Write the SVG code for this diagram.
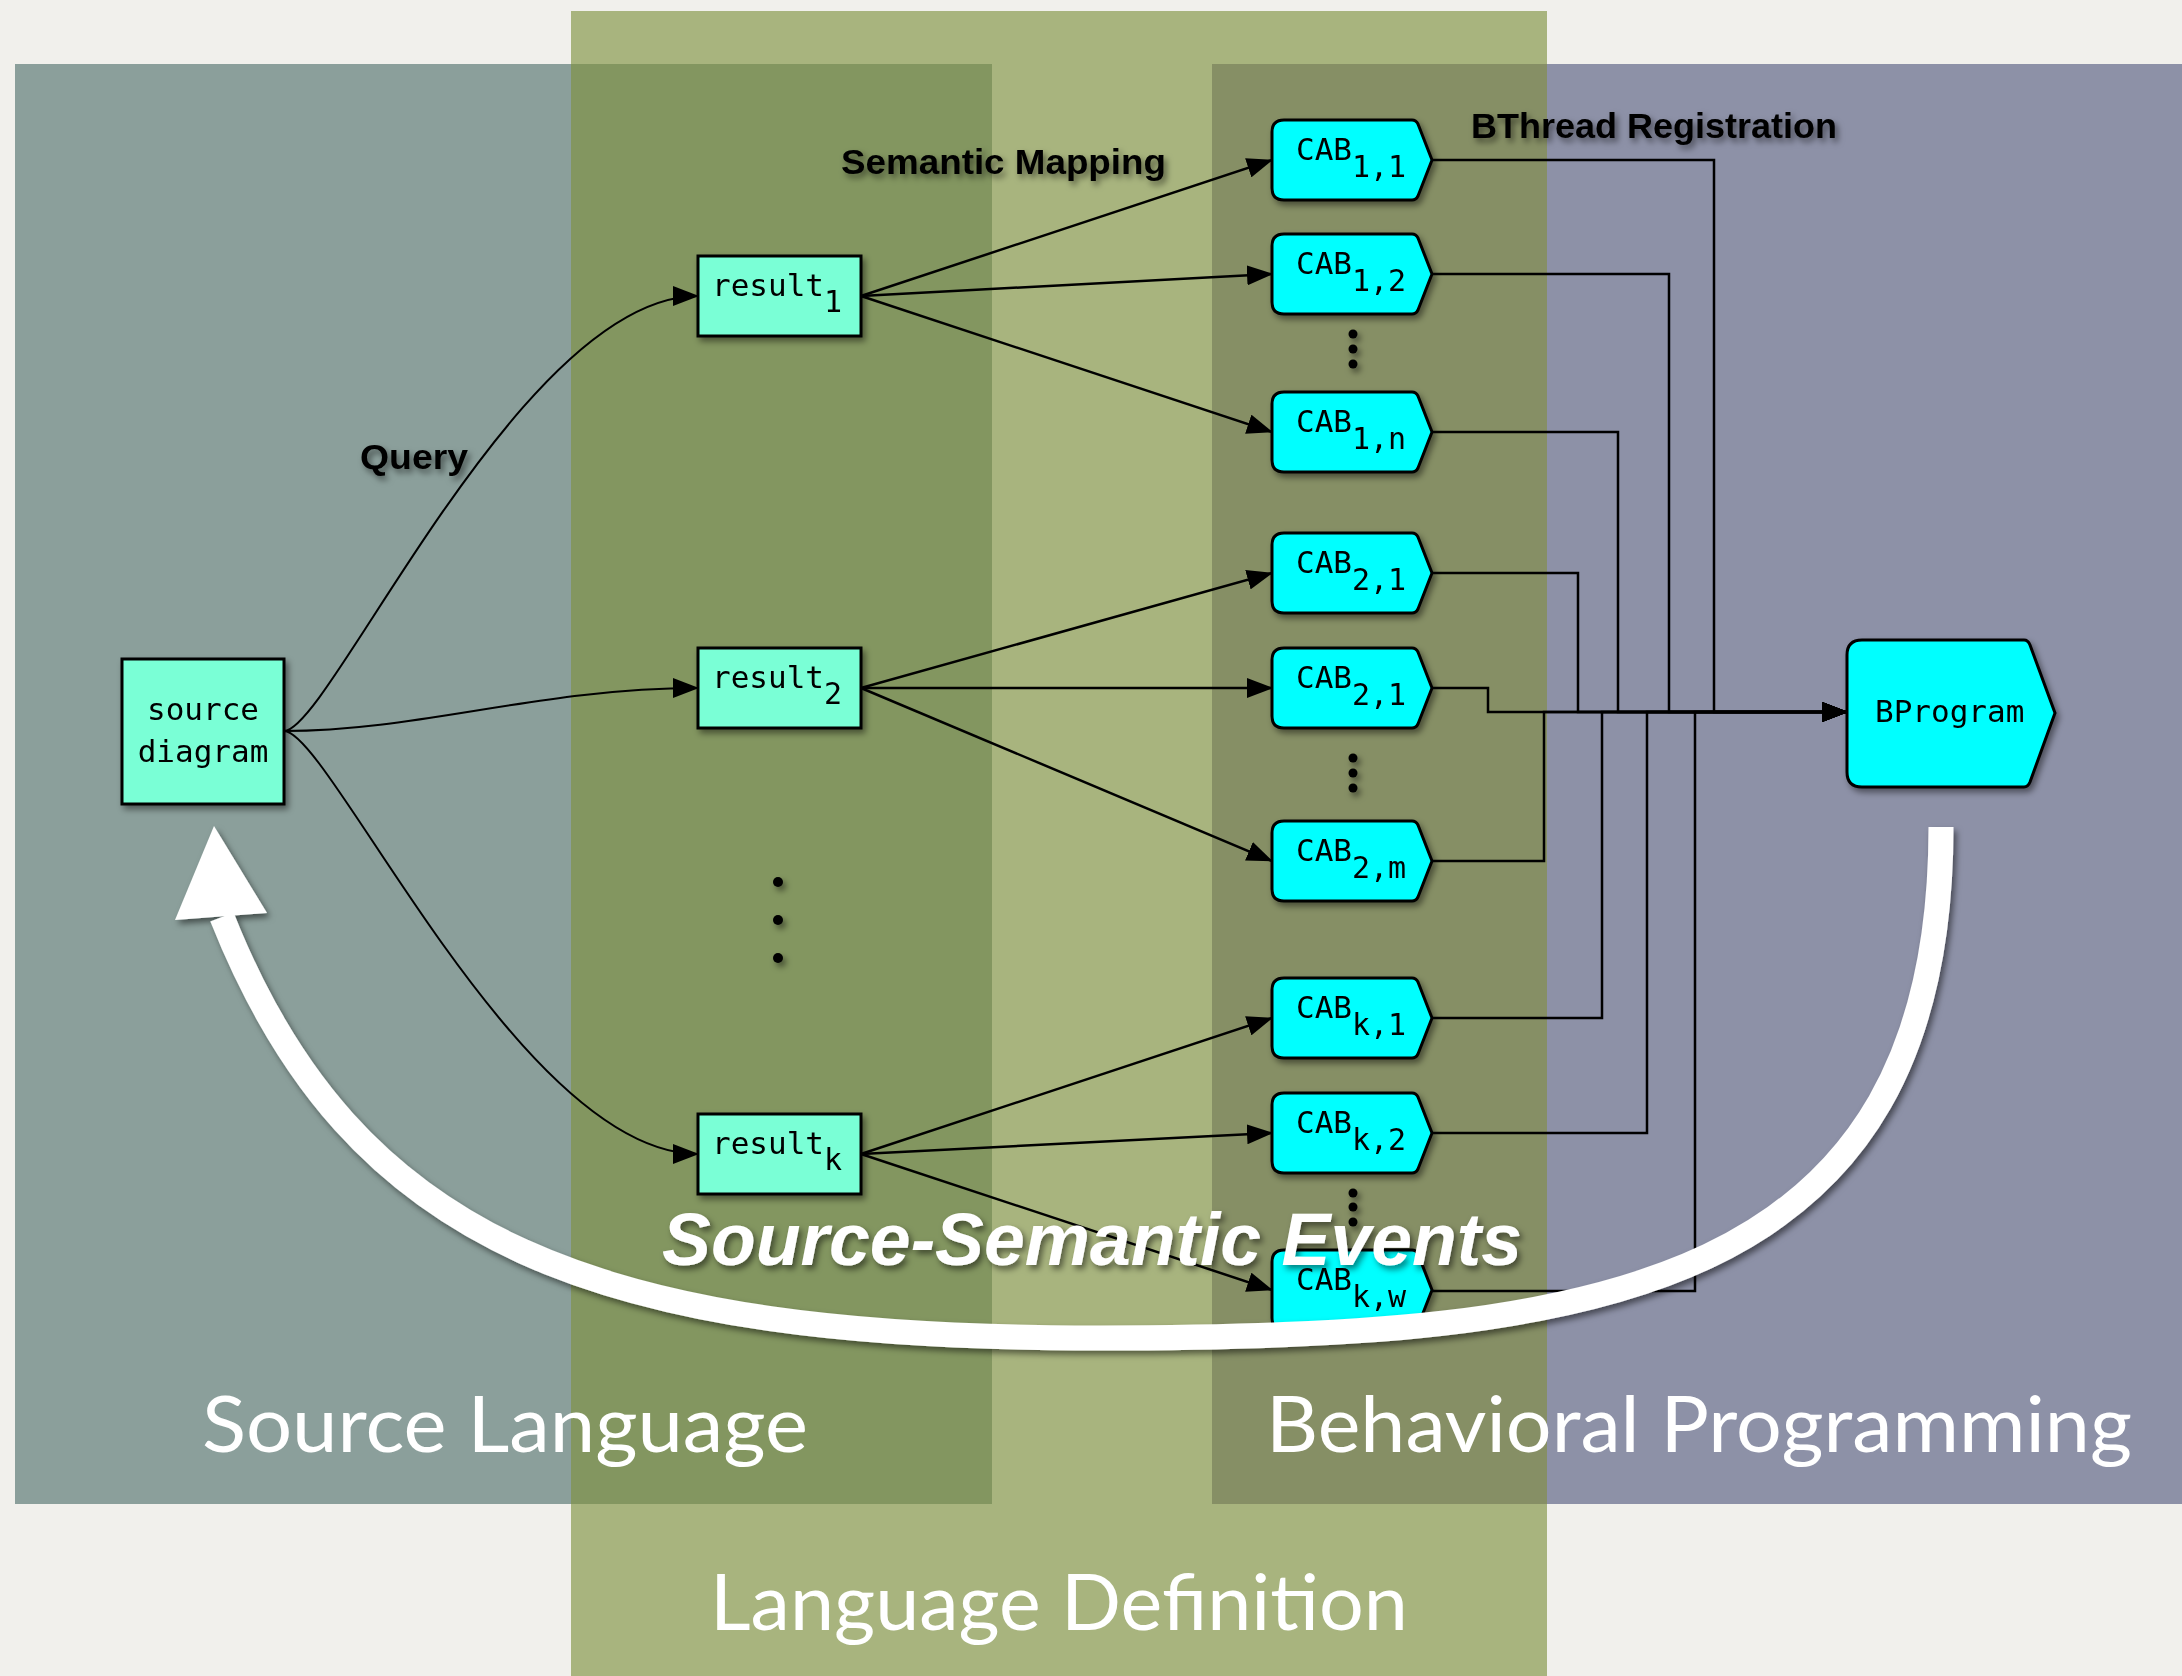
<svg xmlns="http://www.w3.org/2000/svg" xmlns:xlink="http://www.w3.org/1999/xlink" width="2182" height="1676" viewBox="0 0 2182 1676">
<style>
.mono{font-family:"DejaVu Sans Mono","Liberation Mono",monospace;font-size:31px;fill:#000}
.lbl{font-family:"Liberation Sans",Arial,sans-serif;font-weight:bold;font-size:35px;fill:#000}
.big{font-family:"Lato","Noto Sans",sans-serif;font-size:78px;fill:#fff}
.ev{font-family:"Liberation Sans",Arial,sans-serif;font-weight:bold;font-style:italic;font-size:74px;fill:#fff}
.res{fill:#7affd6;stroke:#000;stroke-width:3}
.cab{fill:#00ffff;stroke:#000;stroke-width:3}
.ln{fill:none;stroke:#000;stroke-width:2.5}
.cv{fill:none;stroke:#000;stroke-width:2}
</style>
<defs>
<filter id="sh" x="-20%" y="-20%" width="140%" height="150%"><feDropShadow dx="3" dy="4" stdDeviation="3" flood-color="#000" flood-opacity="0.45"/></filter>
<filter id="tsh" x="-10%" y="-30%" width="120%" height="170%"><feDropShadow dx="3" dy="4" stdDeviation="3" flood-color="#000" flood-opacity="0.5"/></filter>
<marker id="ah" markerUnits="userSpaceOnUse" markerWidth="26" markerHeight="20" viewBox="0 0 26 20" refX="25" refY="10" orient="auto"><path d="M0,0 L26,10 L0,20 Z" fill="#000"/></marker>
<path id="cabshape" d="M12,0 H140 Q144,0 146,4 L160,40 L146,76 Q144,80 140,80 H12 Q0,80 0,68 V12 Q0,0 12,0 Z"/>
</defs>

<g id="panels">
<rect x="0" y="0" width="2182" height="1676" fill="#f1f0ec"/>
<rect x="15" y="64" width="556" height="1440" fill="#8b9f9b"/>
<rect x="571" y="11" width="976" height="1665" fill="#a8b47e"/>
<rect x="571" y="64" width="421" height="1440" fill="#839660"/>
<rect x="1212" y="64" width="335" height="1440" fill="#868f65"/>
<rect x="1547" y="64" width="635" height="1440" fill="#8d91a7"/>
</g>

<g id="connectors">
<path class="cv" d="M284,731 C330,731 520,296 698,296" marker-end="url(#ah)"/>
<path class="cv" d="M284,731 C420,731 540,688 698,688" marker-end="url(#ah)"/>
<path class="cv" d="M284,731 C330,731 520,1154 698,1154" marker-end="url(#ah)"/>
<path class="ln" d="M861,296 L1272,160" marker-end="url(#ah)"/>
<path class="ln" d="M861,296 L1272,274" marker-end="url(#ah)"/>
<path class="ln" d="M861,296 L1272,432" marker-end="url(#ah)"/>
<path class="ln" d="M861,688 L1272,573" marker-end="url(#ah)"/>
<path class="ln" d="M861,688 L1272,688" marker-end="url(#ah)"/>
<path class="ln" d="M861,688 L1272,861" marker-end="url(#ah)"/>
<path class="ln" d="M861,1154 L1272,1018" marker-end="url(#ah)"/>
<path class="ln" d="M861,1154 L1272,1133" marker-end="url(#ah)"/>
<path class="ln" d="M861,1154 L1272,1290" marker-end="url(#ah)"/>
<path class="ln" d="M1432,160 H1714 V712 H1847" marker-end="url(#ah)"/>
<path class="ln" d="M1432,274 H1669 V712 H1847" marker-end="url(#ah)"/>
<path class="ln" d="M1432,432 H1618 V712 H1847" marker-end="url(#ah)"/>
<path class="ln" d="M1432,573 H1578 V712 H1847" marker-end="url(#ah)"/>
<path class="ln" d="M1432,688 H1488 V712 H1847" marker-end="url(#ah)"/>
<path class="ln" d="M1432,861 H1544 V712 H1847" marker-end="url(#ah)"/>
<path class="ln" d="M1432,1018 H1602 V712 H1847" marker-end="url(#ah)"/>
<path class="ln" d="M1432,1133 H1647 V712 H1847" marker-end="url(#ah)"/>
<path class="ln" d="M1432,1291 H1695 V712 H1847" marker-end="url(#ah)"/>
</g>

<g id="labels" filter="url(#tsh)">
<text class="lbl" x="841" y="174" textLength="325" lengthAdjust="spacingAndGlyphs">Semantic Mapping</text>
<text class="lbl" x="1471" y="138" textLength="366" lengthAdjust="spacingAndGlyphs">BThread Registration</text>
<text class="lbl" x="360" y="469" textLength="108" lengthAdjust="spacingAndGlyphs">Query</text>
</g>

<g id="dots" filter="url(#tsh)">
<circle cx="1353" cy="334" r="4.5"/><circle cx="1353" cy="349" r="4.5"/><circle cx="1353" cy="364" r="4.5"/>
<circle cx="1353" cy="758" r="4.5"/><circle cx="1353" cy="773" r="4.5"/><circle cx="1353" cy="788" r="4.5"/>
<circle cx="1353" cy="1193" r="4.5"/><circle cx="1353" cy="1207" r="4.5"/><circle cx="1353" cy="1222" r="4.5"/>
<circle cx="778" cy="882" r="5"/><circle cx="778" cy="920" r="5"/><circle cx="778" cy="958" r="5"/>
</g>

<g id="node-source" filter="url(#sh)">
<rect class="res" x="122" y="659" width="162" height="145"/>
<text class="mono" x="203" y="720" text-anchor="middle">source</text>
<text class="mono" x="203" y="762" text-anchor="middle">diagram</text>
</g>
<g id="node-result1" filter="url(#sh)">
<rect class="res" x="698" y="256" width="163" height="80"/>
<text class="mono" x="712" y="296">result<tspan dy="16" font-size="30">1</tspan></text>
</g>
<g id="node-result2" filter="url(#sh)">
<rect class="res" x="698" y="648" width="163" height="80"/>
<text class="mono" x="712" y="688">result<tspan dy="16" font-size="30">2</tspan></text>
</g>
<g id="node-resultk" filter="url(#sh)">
<rect class="res" x="698" y="1114" width="163" height="80"/>
<text class="mono" x="712" y="1154">result<tspan dy="16" font-size="30">k</tspan></text>
</g>

<g id="node-cab11" filter="url(#sh)"><use href="#cabshape" class="cab" x="1272" y="120"/><text class="mono" x="1296" y="160">CAB<tspan dy="17" font-size="30">1,1</tspan></text></g>
<g id="node-cab12" filter="url(#sh)"><use href="#cabshape" class="cab" x="1272" y="234"/><text class="mono" x="1296" y="274">CAB<tspan dy="17" font-size="30">1,2</tspan></text></g>
<g id="node-cab1n" filter="url(#sh)"><use href="#cabshape" class="cab" x="1272" y="392"/><text class="mono" x="1296" y="432">CAB<tspan dy="17" font-size="30">1,n</tspan></text></g>
<g id="node-cab21a" filter="url(#sh)"><use href="#cabshape" class="cab" x="1272" y="533"/><text class="mono" x="1296" y="573">CAB<tspan dy="17" font-size="30">2,1</tspan></text></g>
<g id="node-cab21b" filter="url(#sh)"><use href="#cabshape" class="cab" x="1272" y="648"/><text class="mono" x="1296" y="688">CAB<tspan dy="17" font-size="30">2,1</tspan></text></g>
<g id="node-cab2m" filter="url(#sh)"><use href="#cabshape" class="cab" x="1272" y="821"/><text class="mono" x="1296" y="861">CAB<tspan dy="17" font-size="30">2,m</tspan></text></g>
<g id="node-cabk1" filter="url(#sh)"><use href="#cabshape" class="cab" x="1272" y="978"/><text class="mono" x="1296" y="1018">CAB<tspan dy="17" font-size="30">k,1</tspan></text></g>
<g id="node-cabk2" filter="url(#sh)"><use href="#cabshape" class="cab" x="1272" y="1093"/><text class="mono" x="1296" y="1133">CAB<tspan dy="17" font-size="30">k,2</tspan></text></g>
<g id="node-cabkw" filter="url(#sh)"><use href="#cabshape" class="cab" x="1272" y="1250"/><text class="mono" x="1296" y="1290">CAB<tspan dy="17" font-size="30">k,w</tspan></text></g>

<g id="node-bprogram" filter="url(#sh)">
<path class="cab" d="M1862,640 H2024 Q2028,640 2030,645 L2055,713 L2030,782 Q2028,787 2024,787 H1862 Q1847,787 1847,772 V655 Q1847,640 1862,640 Z"/>
<text class="mono" x="1875" y="722">BProgram</text>
</g>

<g id="feedback-arrow" filter="url(#tsh)">
<path d="M1941,827 C1941,1290 1600,1338 1100,1338 C600,1338 353,1247 222,917" fill="none" stroke="#fff" stroke-width="25"/>
<polygon points="214,826 267,913 175,920" fill="#fff"/>
</g>

<g id="titles">
<text class="ev" x="662" y="1265" textLength="860" lengthAdjust="spacingAndGlyphs" filter="url(#tsh)">Source-Semantic Events</text>
<text class="big" x="202" y="1452" textLength="606" lengthAdjust="spacingAndGlyphs">Source Language</text>
<text class="big" x="1266" y="1452" textLength="866" lengthAdjust="spacingAndGlyphs">Behavioral Programming</text>
<text class="big" x="710" y="1630" textLength="698" lengthAdjust="spacingAndGlyphs">Language Definition</text>
</g>
</svg>
